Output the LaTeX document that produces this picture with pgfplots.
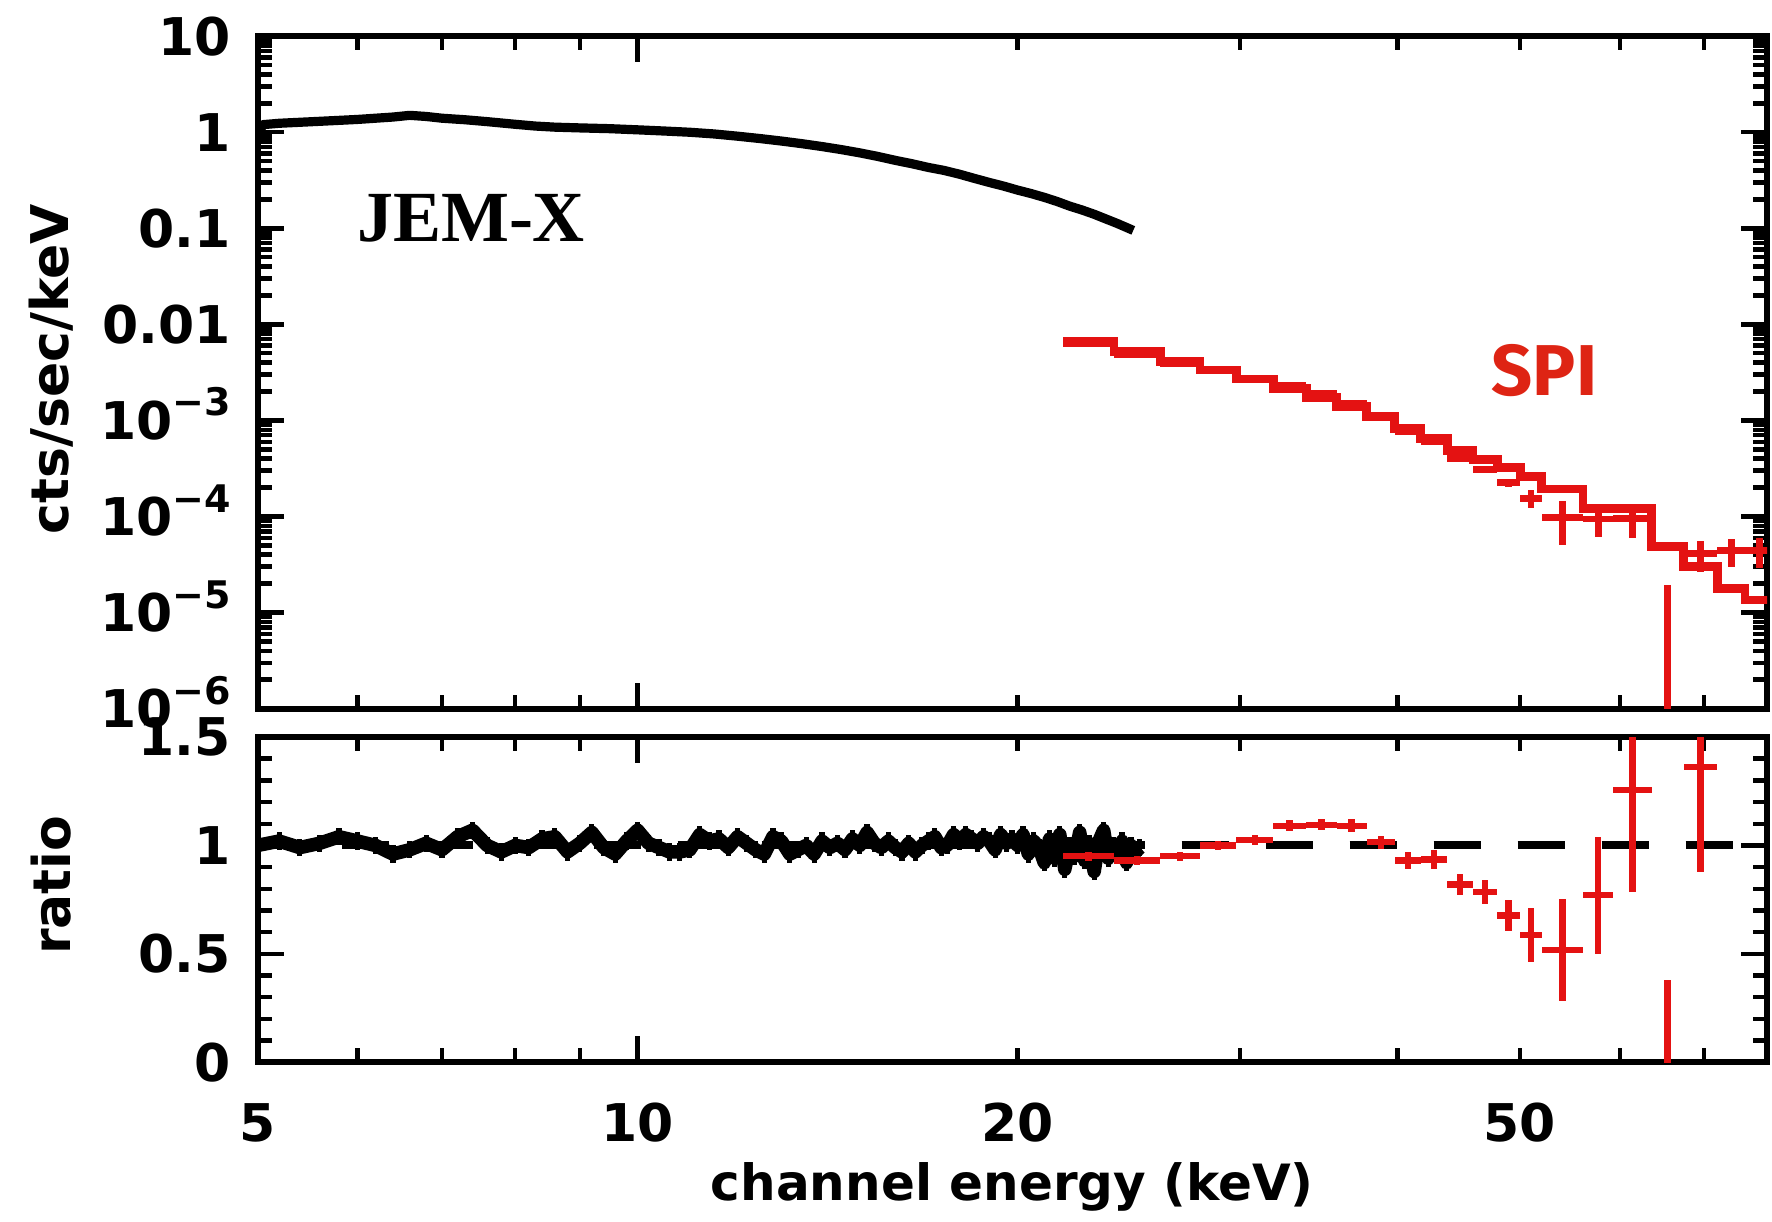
\documentclass[border=0pt]{standalone}
\usepackage{fontspec}
\setmainfont{DejaVu Sans}
\newfontfamily\jemfont{Liberation Serif}
\newfontfamily\spifont{Fira Sans}
\usepackage{pgfplots}
\pgfplotsset{compat=1.18}

\definecolor{spired}{RGB}{228,18,18}
\definecolor{spitext}{RGB}{222,36,20}

\newcommand{\lab}{\fontsize{13}{15}\selectfont\bfseries}
\newcommand{\tenexp}[1]{10\raisebox{0.45em}{\fontsize{9.5}{10}\selectfont\bfseries −#1}}

\pgfplotsset{
  /pgfplots/spanel/.style={
    scale only axis, width=377.35pt,
    xmin=5, xmax=78.5,
    axis line style={line width=1.5pt},
    tick style={line width=1.1pt, black},
    major tick length=6.5pt, minor tick length=3.5pt,
    tick label style={font=\lab},
    yticklabel style={anchor=base east, inner sep=0pt, xshift=-6.5pt, yshift=-4.74pt},
    xticklabel style={anchor=base, inner sep=0pt, yshift=-19.7pt},
  },
  /pgfplots/crosses/.style={
    spired, draw=none, mark=none,
    error bars/.cd, x dir=both, x explicit, y dir=both, y explicit,
    error mark=none, error bar style={draw=spired, line width=#1, solid},
  },
}

\begin{document}
\begin{tikzpicture}
\path[use as bounding box] (-64.4pt,9.05pt) rectangle (378.6pt,-296.2pt);

% ---------------- spectrum panel ----------------
\begin{axis}[xmode=log, ymode=log, spanel, name=top, at={(0,0)}, anchor=north west, height=168.08pt,
  ymin=1e-6, ymax=10,
  xtick={10}, xticklabels={}, minor xtick={6,7,8,9,20,30,40,50,60,70},
  ytick={1e-6,1e-5,1e-4,1e-3,1e-2,1e-1,1,10},
  yticklabels={\tenexp{6},\tenexp{5},\tenexp{4},\tenexp{3},0.01,0.1,1,10},
  minor ytick={2e-6,3e-6,4e-6,5e-6,6e-6,7e-6,8e-6,9e-6,
    2e-5,3e-5,4e-5,5e-5,6e-5,7e-5,8e-5,9e-5,
    2e-4,3e-4,4e-4,5e-4,6e-4,7e-4,8e-4,9e-4,
    2e-3,3e-3,4e-3,5e-3,6e-3,7e-3,8e-3,9e-3,
    0.02,0.03,0.04,0.05,0.06,0.07,0.08,0.09,
    0.2,0.3,0.4,0.5,0.6,0.7,0.8,0.9,
    2,3,4,5,6,7,8,9},
]
% JEM-X counts spectrum
\addplot[black, line width=2.3pt, line join=round] table {
E v
5.00 0.93
5.05 1.20
5.2 1.24
5.4 1.27
5.6 1.30
5.8 1.33
6.0 1.36
6.2 1.40
6.4 1.44
6.6 1.50
6.8 1.46
7.0 1.40
7.3 1.35
7.6 1.29
8.0 1.21
8.3 1.16
8.6 1.13
9.0 1.11
9.5 1.09
10.0 1.06
10.5 1.03
11.0 1.00
11.5 0.96
12.0 0.91
12.5 0.86
13.0 0.81
13.5 0.76
14.0 0.71
14.5 0.66
15.0 0.61
15.5 0.56
16.0 0.51
16.5 0.47
17.0 0.43
17.5 0.40
18.0 0.365
18.5 0.33
19.0 0.30
19.5 0.275
20.0 0.25
20.5 0.23
21.0 0.21
21.5 0.19
22.0 0.17
22.5 0.155
23.0 0.14
23.5 0.125
24.0 0.112
24.4 0.102
24.7 0.095
};
% SPI folded model (histogram)
\addplot[spired, line width=2.2pt, const plot, mark=none] table {
E v
21.74 6.6e-3
23.85 5.2e-3
25.94 4.08e-3
27.90 3.34e-3
29.80 2.7e-3
31.89 2.15e-3
33.86 1.74e-3
35.80 1.39e-3
37.81 1.09e-3
39.81 8.26e-4
41.72 6.5e-4
43.81 4.9e-4
45.91 3.95e-4
47.97 3.24e-4
50.03 2.59e-4
52.05 1.93e-4
56.1 1.21e-4
63.6 4.83e-5
67.4 2.99e-5
71.7 1.78e-5
75.4 1.35e-5
80.0 1.35e-5
};
% SPI data
\addplot[crosses=1.7pt]
  table[x=E, y=v, x error minus=xm, x error plus=xp, y error=e] {
E xm xp v e
22.77 1.03 1.08 6.27e-3 1.3e-4
24.87 1.02 1.07 4.84e-3 1.0e-4
26.90 0.96 1.00 3.88e-3 8e-5
28.83 0.93 0.97 3.34e-3 7e-5
30.83 1.03 1.06 2.77e-3 7e-5
32.86 0.97 1.00 2.34e-3 5.4e-5
34.82 0.96 0.98 1.905e-3 4.4e-5
36.79 0.99 1.02 1.515e-3 4.2e-5
38.80 0.99 1.01 1.106e-3 3.3e-5
40.75 0.94 0.97 7.68e-4 3.3e-5
42.75 1.03 1.06 6.08e-4 2.9e-5
44.85 1.04 1.06 4.02e-4 2.5e-5
46.93 1.02 1.04 3.1e-4 2.2e-5
48.99 1.02 1.04 2.25e-4 2.3e-5
51.03 1.00 1.02 1.55e-4 3.3e-5
54.04 1.99 2.06 9.7e-5 4.7e-5
57.68 1.58 1.62 9.4e-5 3.3e-5
61.41 2.11 2.19 9.5e-5 3.5e-5
69.52 2.12 2.18 4.1e-5 1.45e-5
73.53 1.83 1.87 4.4e-5 1.4e-5
77.40 2.00 2.10 4.4e-5 1.5e-5
};
% SPI bin with a non-positive rate: only its upper error is on the plot
\addplot[spired, line width=1.7pt] coordinates {(65.47,1.93e-5) (65.47,1e-7)};
\node[font=\jemfont\bfseries\fontsize{18}{20}\selectfont] at (axis cs:7.38,0.128) {JEM-X};
\node[font=\spifont\bfseries\fontsize{18}{20}\selectfont, text=spitext] at (axis cs:52.3,3.34e-3) {SPI};
\end{axis}

% ---------------- ratio panel ----------------
\begin{axis}[xmode=log, spanel, name=bot, at={(0,-175.2pt)}, anchor=north west, height=81.3pt,
  ymin=0, ymax=1.5,
  ytick={0,0.5,1,1.5}, yticklabels={0,0.5,1,1.5}, minor y tick num=4,
  xtick={10}, xticklabels={10},
  extra x ticks={5,20,50}, extra x tick labels={5,20,50},
  extra x tick style={/pgfplots/major tick length=3.5pt},
  minor xtick={6,7,8,9,30,40,60,70},
]
\addplot[black, line width=2pt, dash pattern=on 11.75pt off 9.25pt] coordinates {(5,1) (78.5,1)};
% JEM-X data/model
\addplot[black, line width=3.4pt, line join=round, mark=none,
  error bars/.cd, y dir=both, y fixed=0.04, error mark=none,
  error bar style={line width=1.3pt, solid}] table {
E r
5.0 1.00
5.2 1.02
5.4 0.99
5.6 1.01
5.8 1.04
6.0 1.02
6.2 1.00
6.4 0.96
6.6 0.98
6.8 1.01
7.0 0.98
7.2 1.04
7.4 1.07
7.6 1.00
7.8 0.97
8.0 1.00
8.2 0.99
8.4 1.03
8.6 1.04
8.8 0.97
9.0 1.01
9.2 1.06
9.4 0.99
9.6 0.96
9.8 1.02
10.0 1.07
10.2 1.01
10.4 0.99
10.6 0.97
10.8 0.97
11.0 0.98
11.2 1.05
11.4 1.02
11.6 1.03
11.8 0.99
12.0 1.04
12.2 1.01
12.4 0.98
12.6 0.96
12.8 1.04
13.0 1.02
13.2 0.96
13.4 0.98
13.6 1.00
13.8 0.96
14.0 1.02
14.2 0.99
14.4 1.01
14.6 0.98
14.8 1.03
15.0 1.00
15.2 1.06
15.4 1.01
15.6 0.99
15.8 1.02
16.0 0.99
16.2 0.97
16.4 1.01
16.6 0.97
16.8 1.00
17.0 1.02
17.2 1.04
17.4 0.99
17.6 1.00
17.8 1.05
18.0 1.02
18.2 1.05
18.4 1.03
18.6 1.01
18.8 1.04
19.0 1.02
19.2 0.98
19.4 1.05
19.6 1.01
19.8 1.03
20.0 1.00
20.2 1.05
20.4 0.96
20.6 1.02
20.8 0.99
21.0 0.92
21.2 1.03
21.4 0.94
21.6 1.05
21.8 0.89
22.0 1.00
22.2 0.95
22.4 1.06
22.6 0.93
22.8 1.01
23.0 0.88
23.2 1.02
23.4 1.07
23.6 0.94
23.8 1.00
24.0 0.96
24.2 1.02
24.4 0.92
24.6 1.00
24.8 0.97
25.0 0.99
};
% SPI data/model
\addplot[crosses=1.6pt]
  table[x=E, y=r, x error minus=xm, x error plus=xp, y error=e] {
E xm xp r e
22.77 1.03 1.08 0.95 0.02
24.87 1.02 1.07 0.93 0.02
26.90 0.96 1.00 0.95 0.02
28.83 0.93 0.97 1.00 0.02
30.83 1.03 1.06 1.025 0.025
32.86 0.97 1.00 1.09 0.025
34.82 0.96 0.98 1.095 0.025
36.79 0.99 1.02 1.09 0.03
38.80 0.99 1.01 1.015 0.03
40.75 0.94 0.97 0.93 0.04
42.75 1.03 1.06 0.935 0.045
44.85 1.04 1.06 0.82 0.05
46.93 1.02 1.04 0.786 0.055
48.99 1.02 1.04 0.676 0.07
51.03 1.00 1.02 0.587 0.125
54.04 1.99 2.06 0.519 0.235
57.68 1.58 1.62 0.77 0.27
61.41 2.11 2.19 1.255 0.47
65.47 1.87 1.93 -0.30 0.68
69.52 2.12 2.18 1.362 0.485
};
\end{axis}

\node[font=\lab, rotate=90] at ([xshift=-51.6pt, yshift=0.8pt]top.west) {cts/sec/keV};
\node[font=\lab, rotate=90] at ([xshift=-51.6pt, yshift=3.6pt]bot.west) {ratio};
\node[font=\fontsize{12.5}{15}\selectfont\bfseries] at ([yshift=-31.2pt]bot.south) {channel energy (keV)};
\end{tikzpicture}
\end{document}
